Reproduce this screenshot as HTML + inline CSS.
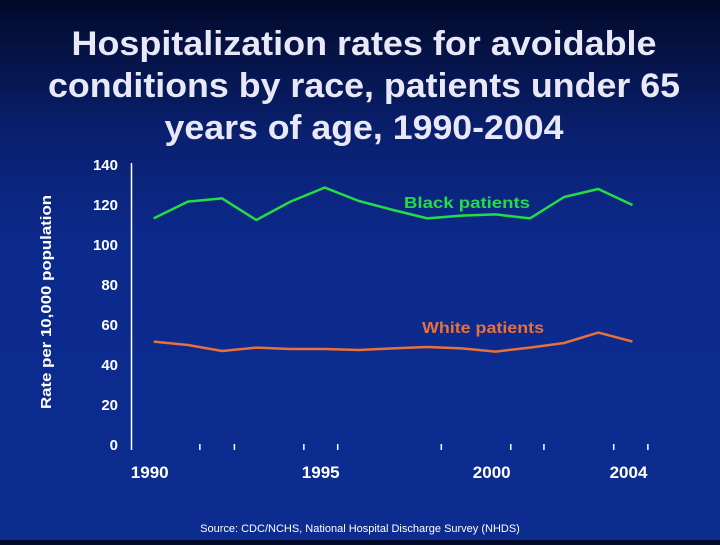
<!DOCTYPE html>
<html><head><meta charset="utf-8"><style>
html,body{margin:0;padding:0}
body{width:720px;height:540px;overflow:hidden;background:linear-gradient(180deg,#020a2a 0%,#0a2070 25%,#0c2a8c 45%,#0c2c90 100%);font-family:"Liberation Sans",Arial,sans-serif;}
</style></head><body>
<svg width="720" height="540" xmlns="http://www.w3.org/2000/svg" font-family="Liberation Sans, Arial, sans-serif">
<g fill="#e8e8f6" font-size="34" font-weight="bold" text-anchor="middle">
<text x="364" y="55" textLength="585" lengthAdjust="spacingAndGlyphs">Hospitalization rates for avoidable</text>
<text x="364" y="97" textLength="632" lengthAdjust="spacingAndGlyphs">conditions by race, patients under 65</text>
<text x="364" y="139" textLength="399" lengthAdjust="spacingAndGlyphs">years of age, 1990-2004</text>
</g>
<text transform="translate(51,302) rotate(-90)" fill="#fff" font-size="15" font-weight="bold" text-anchor="middle" textLength="214" lengthAdjust="spacingAndGlyphs">Rate per 10,000 population</text>
<g id="axes"></g>
<g id="marks"></g>
<text x="360" y="532" fill="#fff" font-size="11" text-anchor="middle">Source:  CDC/NCHS, National Hospital Discharge Survey (NHDS)</text>
</svg>
<script>
const years=[1990,1991,1992,1993,1994,1995,1996,1997,1998,1999,2000,2001,2002,2003,2004];
const blackValues=[113.3,121.7,123.3,112.5,121.7,128.7,122,117.5,113.3,114.7,115.3,113.3,124,128,120];
const whiteValues=[51.7,50,47,48.7,48,48,47.5,48.3,49,48.3,46.7,48.7,51,56.2,51.7];
const yTicks=[0,20,40,60,80,100,120,140];
const xLabels=[1990,1995,2000,2004];
const tickYears=[1991.35,1992.36,1994.39,1995.38,1998.41,2000.44,2001.41,2003.45,2004.45];
const NS="http://www.w3.org/2000/svg";
function xs(yr){return 153.7+(yr-1990)*34.2;}
function ys(v){return 445-v*2;}
const axes=document.getElementById('axes'),marks=document.getElementById('marks');
function mk(tag,attrs,parent){const e=document.createElementNS(NS,tag);for(const k in attrs)e.setAttribute(k,attrs[k]);parent.appendChild(e);return e;}
let a=mk('line',{x1:131.5,y1:163,x2:131.5,y2:450,stroke:'#fff','stroke-width':1.5},axes);


yTicks.forEach(v=>{const t=mk('text',{x:118,y:ys(v)+5,fill:'#fff','font-size':15,'font-weight':'bold','text-anchor':'end'},axes);t.textContent=v;

});
tickYears.forEach(yr=>{const l=mk('line',{x1:xs(yr),y1:444,x2:xs(yr),y2:450,stroke:'#fff','stroke-width':1.5},axes);

});
xLabels.forEach(yr=>{const t=mk('text',{x:xs(yr)-4,y:478,fill:'#fff','font-size':17,'font-weight':'bold','text-anchor':'middle'},axes);t.textContent=yr;

});
function line(vals,color,name){const p=mk('polyline',{points:vals.map((v,i)=>xs(years[i])+','+ys(v)).join(' '),fill:'none',stroke:color,'stroke-width':2.5,'stroke-linejoin':'round'},marks);

}
line(blackValues,'#22dd44','black-patients-line');
line(whiteValues,'#e8703a','white-patients-line');
let l1=mk('text',{x:467,y:208,fill:'#22dd44','font-size':16,'font-weight':'bold','text-anchor':'middle',textLength:126,lengthAdjust:'spacingAndGlyphs'},marks);l1.textContent='Black  patients';


let l2=mk('text',{x:483,y:333,fill:'#e8703a','font-size':16,'font-weight':'bold','text-anchor':'middle',textLength:122,lengthAdjust:'spacingAndGlyphs'},marks);l2.textContent='White patients';


</script>
</body></html>
